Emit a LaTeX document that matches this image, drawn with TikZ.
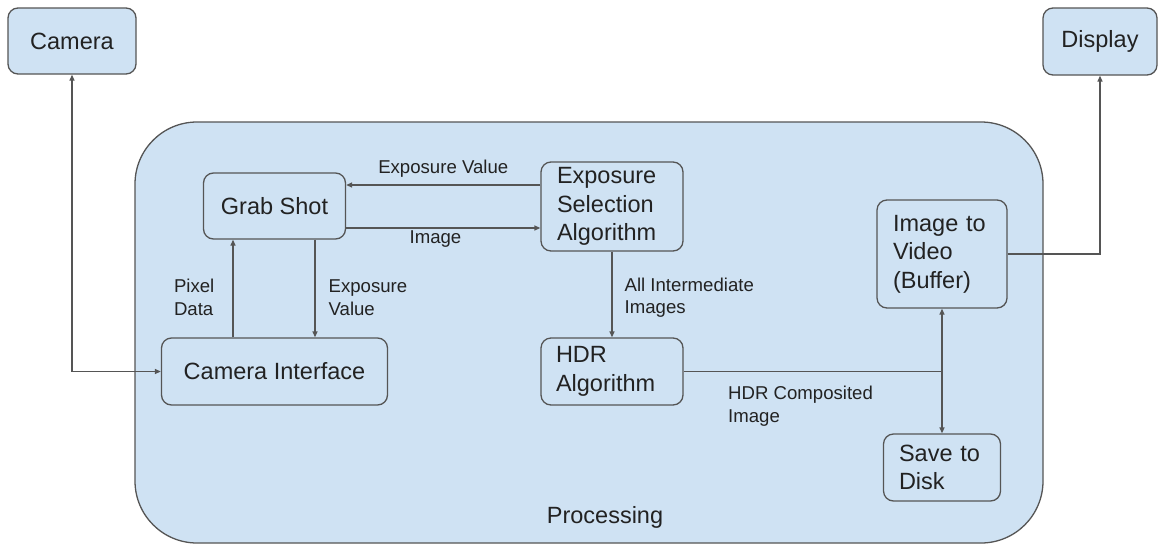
\documentclass[tikz,border=0pt]{standalone}
\usepackage{fontspec}
\setmainfont{Liberation Sans}
\usetikzlibrary{arrows.meta,positioning}
\usepackage{xcolor}
\definecolor{boxblue}{RGB}{207,226,243}
\definecolor{edgegray}{RGB}{85,85,85}
\definecolor{textdark}{RGB}{34,34,34}

\begin{document}
\begin{tikzpicture}[
  x=1pt, y=-1pt,
  >={Triangle[length=6pt,width=5pt]},
  block/.style={
    rectangle,
    rounded corners=10pt,
    draw=edgegray,
    fill=boxblue,
    line width=1.3pt,
    inner sep=0pt,
    text=textdark,
    font=\fontsize{23.5}{28.5}\selectfont
  },
  lbl/.style={
    inner sep=0pt,
    align=left,
    text=textdark,
    font=\fontsize{18.6}{22.5}\selectfont
  },
  arrow/.style={line width=1.3pt, draw=edgegray}
]
\useasboundingbox (0,0) rectangle (1158,546);

% processing area
\node[block, rounded corners=62pt, minimum width=908pt, minimum height=421pt] (proc) at (589,332.5) {};
\node[font=\fontsize{23.5}{28.5}\selectfont, text=textdark, inner sep=0pt] (proclabel) at (605,517) {Processing};

\node[block, minimum width=128pt, minimum height=66pt] (camera) at (72,41) {Camera};
\node[block, minimum width=114pt, minimum height=67pt] (display) at (1100,41.5) {Display};

\node[block, minimum width=142pt, minimum height=66pt] (grab) at (274.5,206) {Grab Shot};
\node[block, minimum width=226pt, minimum height=67pt] (camif) at (274.5,371.5) {Camera Interface};
\node[block, minimum width=142pt, minimum height=89pt, text width=110pt, align=left] (expsel) at (612,206.5) {Exposure\\Selection\\Algorithm};
\node[block, minimum width=142pt, minimum height=67pt, text width=112pt, align=left] (hdr) at (612,371.5) {HDR\\Algorithm};
\node[block, minimum width=130pt, minimum height=108pt, text width=98pt, align=left] (imgvid) at (942,254) {Image~to\\Video\\(Buffer)};
\node[block, minimum width=117pt, minimum height=67pt, text width=86pt, align=left] (save) at (942,467.5) {Save~to\\Disk};

\draw[arrow, <->] (camera.south) |- (camif.west);

\draw[arrow, ->] ([yshift=21.5pt]expsel.west) -- ([yshift=21pt]grab.east)
  node[lbl, midway, above=7pt] {Exposure Value};
\draw[arrow, ->] ([yshift=-22pt]grab.east) -- ([yshift=-21.5pt]expsel.west)
  node[lbl, pos=0.46, below=2pt] {Image};

\draw[arrow, ->] ([xshift=-41.5pt]camif.north) -- ([xshift=-41.5pt]grab.south)
  node[lbl, midway, left=18pt, yshift=-9pt] {Pixel\\Data};
\draw[arrow, ->] ([xshift=40.5pt]grab.south) -- ([xshift=40.5pt]camif.north)
  node[lbl, midway, right=13pt, yshift=-9pt] {Exposure\\Value};

\draw[arrow, ->] (expsel.south) -- (hdr.north)
  node[lbl, midway, right=12pt, yshift=-3pt] {All Intermediate\\Images};

\coordinate (split) at (imgvid.south |- hdr.east);
\draw[arrow] (hdr.east) -- (split)
  node[lbl, pos=0.17, anchor=north west, yshift=-14pt] {HDR Composited\\Image};
\draw[arrow, ->] (split) -- (imgvid.south);
\draw[arrow, ->] (split) -- (save.north);

\draw[arrow, ->] (imgvid.east) -| (display.south);

\end{tikzpicture}
\end{document}
